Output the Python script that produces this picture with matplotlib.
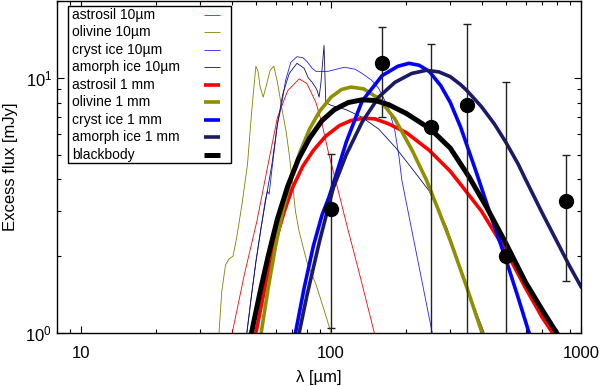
import matplotlib
matplotlib.use("Agg")
import matplotlib.pyplot as plt
from matplotlib.patches import Rectangle
from matplotlib.ticker import FixedLocator, FixedFormatter, LogLocator, NullFormatter

plt.rcParams["font.family"] = ["Liberation Sans", "DejaVu Sans"]
plt.rcParams["mathtext.fontset"] = "custom"
plt.rcParams["mathtext.rm"] = "Liberation Sans"

# ── observed excess photometry ───────────────────────────────────────────────
obs_wl   = [100, 160, 250, 350, 500, 870]
obs_flux = [3.05, 11.4, 6.4, 7.8, 2.0, 3.3]
obs_err  = [2.0, 4.4, 7.2, 8.5, 7.6, 1.7]

# ── thin curves: 10 um grains ────────────────────────────────────────────────
astrosil10_wl = [40.2, 45, 50.5, 55.5, 61, 67, 74.5, 80, 87, 92, 98, 104, 115, 130, 149]
astrosil10_f  = [1.0, 1.7, 2.75, 4.4, 7.0, 8.9, 9.9, 9.5, 8.0, 6.6, 5.0, 4.0, 2.7, 1.7, 1.0]

olivine10_wl = [35.6, 36.5, 37.8, 39, 40.5, 42, 44, 46.3, 48, 49, 50, 51, 52, 53.5, 55,
                57, 59, 61, 63.5, 66, 68, 70, 72, 74.5, 80, 87, 94, 100]
olivine10_f  = [1.0, 1.45, 1.85, 1.95, 2.0, 2.4, 3.2, 4.6, 7.2, 9.0, 11.1, 10.6, 9.2, 8.4, 9.3,
                10.7, 11.1, 9.6, 7.6, 6.2, 5.0, 3.9, 3.0, 2.5, 1.9, 1.55, 1.22, 1.0]

cryst10_wl = [46, 48, 50, 52.5, 54.5, 55.6, 56.5, 58, 61, 63, 65.8, 69, 73, 77, 80, 84, 87,
              97, 113, 125, 133, 145, 155, 170, 180, 187, 192, 210, 230, 254]
cryst10_f  = [1.0, 1.4, 1.9, 2.6, 3.3, 3.6, 3.5, 4.4, 6.6, 7.6, 9.8, 11.5, 12.1, 12.0, 11.6, 10.9, 10.6,
              10.6, 11.0, 10.8, 10.4, 9.8, 9.1, 7.6, 6.2, 4.9, 3.96, 2.55, 1.63, 1.0]

amorph10_wl = [46, 48, 50, 52.5, 55, 58, 61, 64, 68, 73, 78, 81, 84, 86.8, 88, 89.5, 91, 93.7,
               95.2, 100, 115, 133, 155, 182, 215, 247, 290, 350, 410]
amorph10_f  = [1.0, 1.4, 1.9, 2.6, 3.4, 4.6, 6.6, 8.6, 10.4, 11.4, 10.9, 10.0, 9.6, 9.15, 8.9, 8.4, 9.5, 13.4,
               8.0, 7.8, 7.5, 7.0, 6.3, 5.3, 4.3, 3.6, 2.6, 1.5, 1.0]

# ── thick curves: 1 mm grains and blackbody ──────────────────────────────────
astrosil1_wl = [50, 55, 60, 65, 70, 77, 85, 95, 108, 120, 135, 150, 170, 200, 247, 300, 335,
                400, 500, 600, 700, 770]
astrosil1_f  = [1.0, 1.6, 2.3, 3.0, 3.7, 4.5, 5.2, 5.9, 6.5, 6.8, 6.95, 6.9, 6.6, 6.1, 5.2, 4.3, 3.75,
                3.0, 2.1, 1.5, 1.15, 1.0]

olivine1_wl = [52.5, 56, 60, 64, 69, 75, 82, 90, 100, 110, 120, 135, 155, 180, 211, 240, 270, 300, 350, 402]
olivine1_f  = [1.0, 1.5, 2.2, 3.0, 4.0, 5.1, 6.3, 7.4, 8.4, 9.0, 9.2, 9.05, 8.3, 6.9, 5.2, 4.0, 3.0, 2.3, 1.5, 1.0]

cryst1_wl = [72, 78, 85, 92, 98, 105, 115, 133, 160, 185, 205, 225, 247, 275, 300, 330, 380, 440, 500, 560, 620]
cryst1_f  = [1.0, 1.5, 2.2, 2.9, 3.4, 4.2, 5.6, 8.1, 10.2, 11.1, 11.4, 11.2, 10.6, 9.3, 8.0, 6.4, 4.3, 2.8,
             1.95, 1.38, 1.0]

amorph1_wl = [74.5, 80, 90, 102, 115, 133, 155, 180, 210, 240, 270, 300, 330, 350, 400, 450, 500, 560,
              600, 700, 800, 900, 1000]
amorph1_f  = [1.0, 1.4, 2.3, 3.7, 5.0, 6.7, 8.4, 9.6, 10.4, 10.7, 10.55, 10.1, 9.4, 8.9, 7.7, 6.6, 5.6, 4.6,
              4.0, 2.95, 2.29, 1.83, 1.52]

bb_wl = [48, 52, 56, 61, 67, 74, 82, 92, 103, 117, 133, 150, 170, 200, 250, 300, 356, 420, 500, 600, 700, 800]
bb_f  = [1.0, 1.45, 2.0, 2.8, 3.75, 4.8, 5.8, 6.8, 7.5, 8.0, 8.2, 8.15, 7.85, 7.25, 6.3, 5.3, 4.1, 3.1,
         2.25, 1.58, 1.23, 1.0]

thin = [
    (astrosil10_wl, astrosil10_f, "#ff0000", "astrosil 10\u00b5m"),
    (olivine10_wl, olivine10_f, "#808000", "olivine 10\u00b5m"),
    (cryst10_wl, cryst10_f, "#2020ff", "cryst ice 10\u00b5m"),
    (amorph10_wl, amorph10_f, "#101060", "amorph ice 10\u00b5m"),
]
thick = [
    (astrosil1_wl, astrosil1_f, "#ff0000", "astrosil 1 mm", 2.6),
    (olivine1_wl, olivine1_f, "#8f8f00", "olivine 1 mm", 2.6),
    (cryst1_wl, cryst1_f, "#0000ff", "cryst ice 1 mm", 2.6),
    (amorph1_wl, amorph1_f, "#1a1a66", "amorph ice 1 mm", 2.6),
    (bb_wl, bb_f, "#000000", "blackbody", 3.6),
]

fig = plt.figure(figsize=(6.0, 3.86), dpi=100)
ax = fig.add_axes([0.095, 0.1373, 0.8733, 0.8601])

entries = []
for wl, f, c, lab in thin:
    ax.plot(wl, f, color=c, lw=0.6)
    entries.append((c, 0.6, lab))
for wl, f, c, lab, lw in thick:
    ax.plot(wl, f, color=c, lw=lw)
    entries.append((c, lw, lab))

ax.errorbar(obs_wl, obs_flux, yerr=obs_err, fmt="o", color="black", ms=10,
            ecolor="#222222", elinewidth=1.0, capsize=3, capthick=1.0, zorder=5)

ax.set_xscale("log")
ax.set_yscale("log")
ax.set_xlim(8, 1000)
ax.set_ylim(1, 20)

ax.xaxis.set_major_locator(FixedLocator([10, 100, 1000]))
ax.xaxis.set_major_formatter(FixedFormatter(["10", "100", "1000"]))
ax.xaxis.set_minor_locator(LogLocator(base=10, subs=range(2, 10)))
ax.xaxis.set_minor_formatter(NullFormatter())
ax.yaxis.set_minor_formatter(NullFormatter())

ax.tick_params(which="both", direction="in", top=True, right=True, labelsize=12)
ax.tick_params(which="major", length=5, width=0.8)
ax.tick_params(which="minor", length=3, width=0.8)
ax.tick_params(axis="x", pad=9)
for s in ax.spines.values():
    s.set_linewidth(1.0)

ax.set_xlabel("\u03bb [\u00b5m]", fontsize=12, labelpad=7)
ax.set_ylabel("Excess flux [mJy]", fontsize=12, labelpad=5)

# legend drawn by hand: labels left-aligned, short line samples on the right
ax.add_patch(Rectangle((0.021, 0.512), 0.311, 0.473, transform=ax.transAxes,
                       facecolor="white", edgecolor="black", lw=1.0, zorder=10))
row_top, row_step = 0.958, 0.0527
for i, (c, lw, lab) in enumerate(entries):
    yy = row_top - i * row_step
    ax.text(0.0286, yy, lab, transform=ax.transAxes, fontsize=10, va="center",
            ha="left", zorder=11)
    ax.plot([0.2805, 0.311], [yy, yy], transform=ax.transAxes, color=c, lw=lw,
            solid_capstyle="butt", zorder=11)

fig.savefig("out.png", dpi=100)
